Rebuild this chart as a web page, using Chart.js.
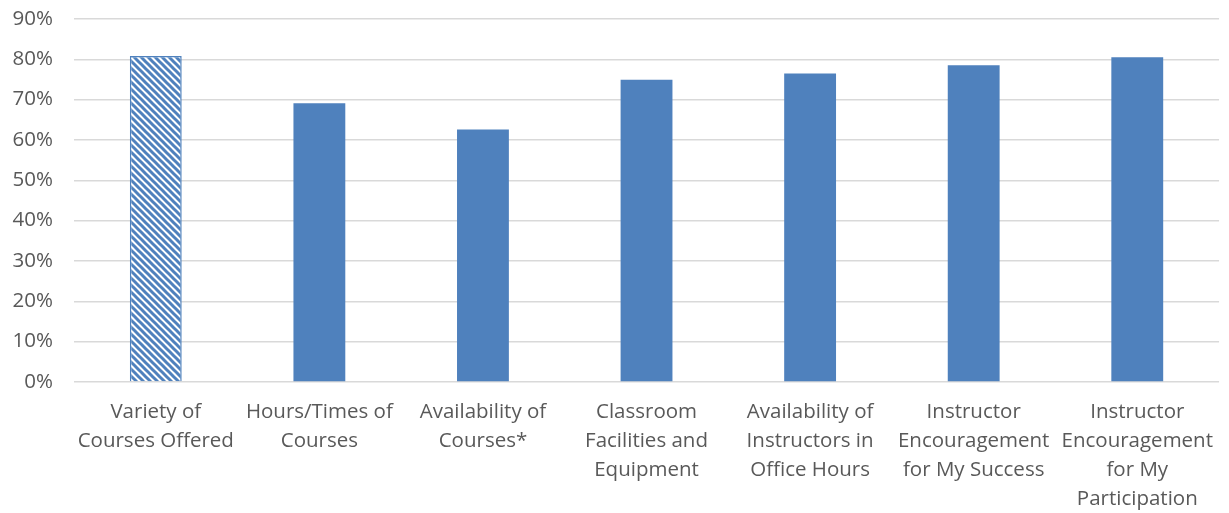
<!DOCTYPE html>
<html>
<head>
<meta charset="utf-8">
<script src="https://cdn.jsdelivr.net/npm/chart.js@4/dist/chart.umd.min.js"></script>
<style>
  html, body { margin: 0; padding: 0; background: #fff; }
  #wrap { width: 1229px; height: 513px; }
</style>
</head>
<body>
<div id="wrap"><canvas id="satChart"></canvas></div>
<script>
var categories = [
    ["Variety of", "Courses Offered"],
    ["Hours/Times of", "Courses"],
    ["Availability of", "Courses*"],
    ["Classroom", "Facilities and", "Equipment"],
    ["Availability of", "Instructors in", "Office Hours"],
    ["Instructor", "Encouragement", "for My Success"],
    ["Instructor", "Encouragement", "for My", "Participation"]
];
var satisfied = [80.8, 69.1, 62.6, 74.9, 76.5, 78.5, 80.5];
var hatched = [true, false, false, false, false, false, false];

var blue = "#4f81bd";

function makeHatch() {
    var size = 7;
    var c = document.createElement("canvas");
    c.width = size; c.height = size;
    var ctx = c.getContext("2d");
    ctx.fillStyle = "#ffffff";
    ctx.fillRect(0, 0, size, size);
    ctx.strokeStyle = blue;
    ctx.lineWidth = 3;
    ctx.beginPath();
    ctx.moveTo(-size, 0); ctx.lineTo(size, size * 2);
    ctx.moveTo(0, 0); ctx.lineTo(size, size);
    ctx.moveTo(0, -size); ctx.lineTo(size * 2, size);
    ctx.stroke();
    return ctx.createPattern(c, "repeat");
}

window.addEventListener("DOMContentLoaded", function() {
    var hatch = makeHatch();
    var fills = hatched.map(function(h) { return h ? hatch : blue; });
    var borders = hatched.map(function(h) { return h ? 1.5 : 0; });

    new Chart(document.getElementById("satChart"), {
        type: "bar",
        data: {
            labels: categories,
            datasets: [{
                data: satisfied,
                backgroundColor: fills,
                borderColor: blue,
                borderWidth: borders,
                categoryPercentage: 1,
                barPercentage: 0.317
            }]
        },
        options: {
            responsive: true,
            maintainAspectRatio: false,
            animation: false,
            layout: { padding: { left: 10, right: -3, top: 0, bottom: -17 } },
            plugins: {
                legend: { display: false },
                tooltip: { enabled: false }
            },
            scales: {
                x: {
                    grid: { display: false, drawTicks: false },
                    border: { display: false },
                    ticks: {
                        color: "#595959",
                        font: { family: "Open Sans", size: 20.5, lineHeight: 1.415 },
                        maxRotation: 0,
                        autoSkip: false,
                        padding: 16
                    }
                },
                y: {
                    min: 0,
                    max: 90,
                    afterFit: function(scale) { scale.width = 64; },
                    grid: { color: "#d9d9d9", lineWidth: 1.5, drawTicks: true, tickLength: 21, tickColor: "rgba(0,0,0,0)" },
                    border: { display: false },
                    ticks: {
                        stepSize: 10,
                        autoSkip: false,
                        color: "#595959",
                        font: { family: "Open Sans", size: 20.5, lineHeight: 1.85 },
                        padding: 0,
                        callback: function(v) { return v + "%"; }
                    }
                }
            }
        }
    });
});
</script>
</body>
</html>
